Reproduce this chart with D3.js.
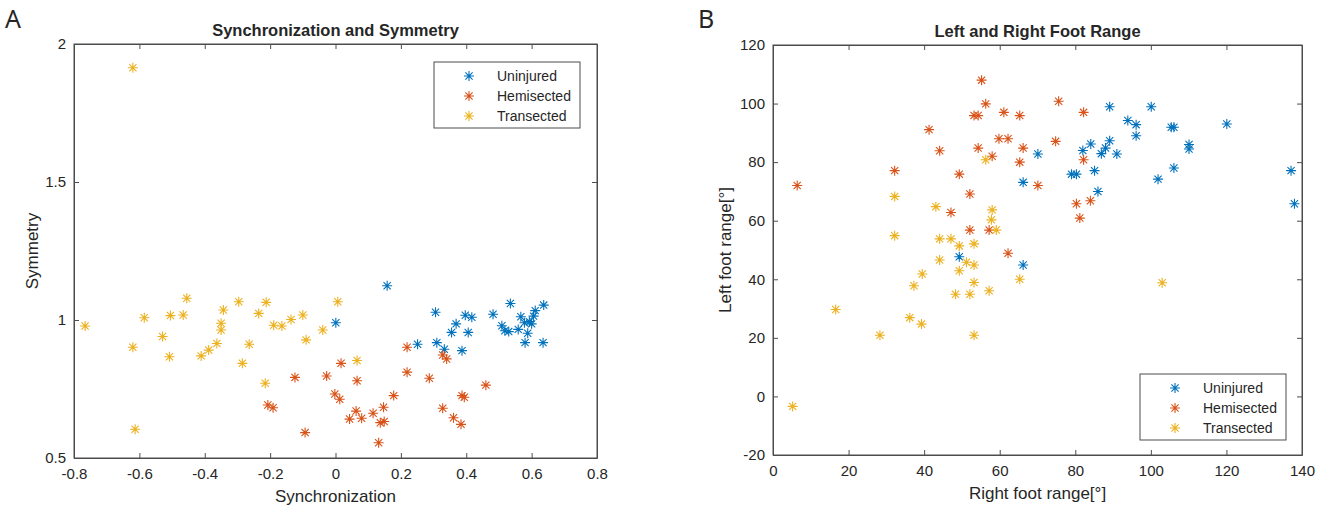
<!DOCTYPE html>
<html>
<head>
<meta charset="utf-8">
<script src="https://cdn.jsdelivr.net/npm/d3@7"></script>
<style>
  body { margin: 0; background: #fff; }
  svg text { font-family: "Liberation Sans", Arial, sans-serif; fill: #262626; }
</style>
</head>
<body>
<svg id="chart" width="1325" height="508"></svg>
<script>
const groups = ['Uninjured', 'Hemisected', 'Transected']
const colors = ['#0072BD', '#D95319', '#EDB120']

// Panel A: synchronization vs symmetry
const syncUninjured = [
  [0.001, 0.990], [0.158, 1.124], [0.251, 0.912], [0.306, 1.028], [0.310, 0.918],
  [0.333, 0.894], [0.355, 0.955], [0.369, 0.986], [0.387, 0.889], [0.397, 1.017],
  [0.406, 0.955], [0.417, 1.010], [0.482, 1.021], [0.509, 0.979], [0.518, 0.961],
  [0.530, 0.958], [0.535, 1.060], [0.559, 0.966], [0.567, 1.012], [0.578, 0.990],
  [0.580, 0.918], [0.588, 0.952], [0.593, 0.994], [0.600, 0.986], [0.606, 1.014],
  [0.611, 1.034], [0.637, 1.054], [0.635, 0.918]
]
const syncHemisected = [
  [-0.207, 0.692], [-0.191, 0.682], [-0.124, 0.792], [-0.093, 0.592], [-0.027, 0.797],
  [-0.002, 0.732], [0.013, 0.713], [0.017, 0.843], [0.043, 0.641], [0.063, 0.670],
  [0.066, 0.780], [0.080, 0.644], [0.115, 0.662], [0.132, 0.555], [0.137, 0.628],
  [0.149, 0.632], [0.147, 0.684], [0.178, 0.726], [0.219, 0.901], [0.219, 0.811],
  [0.287, 0.789], [0.328, 0.873], [0.340, 0.859], [0.328, 0.680], [0.361, 0.646],
  [0.384, 0.622], [0.387, 0.726], [0.394, 0.720], [0.460, 0.764]
]
const syncTransected = [
  [-0.620, 1.914], [-0.766, 0.978], [-0.585, 1.008], [-0.620, 0.901], [-0.613, 0.604],
  [-0.529, 0.940], [-0.508, 0.867], [-0.505, 1.016], [-0.466, 1.018], [-0.455, 1.079],
  [-0.411, 0.870], [-0.388, 0.891], [-0.363, 0.915], [-0.350, 0.964], [-0.350, 0.988],
  [-0.343, 1.036], [-0.296, 1.066], [-0.285, 0.843], [-0.264, 0.912], [-0.235, 1.024],
  [-0.212, 1.064], [-0.215, 0.771], [-0.189, 0.981], [-0.164, 0.978], [-0.136, 1.002],
  [-0.100, 1.018], [-0.090, 0.928], [-0.039, 0.964], [0.007, 1.066], [0.066, 0.853]
]

// Panel B: right foot range vs left foot range
const footUninjured = [
  [70.1, 82.8], [66.2, 73.1], [49.3, 47.7], [66.2, 44.9], [89.1, 98.9], [100.1, 98.9],
  [93.9, 94.2], [96.1, 92.8], [96.1, 89.0], [105.4, 91.9], [106.1, 91.9], [120.1, 93.0],
  [84.1, 86.2], [89.1, 87.3], [82.0, 84.0], [88.0, 84.8], [86.9, 82.9], [91.0, 82.8],
  [110.1, 86.0], [110.1, 84.5], [79.0, 75.9], [80.3, 75.9], [85.1, 77.1], [86.0, 70.0],
  [101.9, 74.2], [106.1, 78.0], [137.1, 77.1], [138.0, 65.8]
]
const footHemisected = [
  [6.4, 72.0], [32.2, 77.1], [41.3, 91.1], [44.1, 83.9], [49.3, 75.9], [47.1, 62.8],
  [52.1, 69.1], [52.1, 56.8], [53.2, 95.9], [54.3, 95.9], [55.2, 108.0], [56.3, 99.9],
  [54.3, 84.8], [58.0, 82.0], [57.2, 56.8], [59.8, 88.0], [62.2, 88.0], [61.1, 97.0],
  [62.2, 48.9], [65.3, 95.9], [66.2, 84.8], [65.3, 80.0], [70.1, 72.0], [75.6, 100.8],
  [74.8, 87.1], [82.2, 97.0], [82.2, 80.8], [80.3, 65.8], [84.0, 66.8], [81.2, 60.9]
]
const footTransected = [
  [5.2, -3.4], [16.6, 29.7], [28.3, 20.9], [32.2, 68.3], [32.2, 54.9], [36.2, 26.9],
  [37.3, 37.8], [39.3, 24.7], [39.5, 41.8], [43.1, 64.8], [44.1, 53.8], [44.1, 46.6],
  [47.1, 53.8], [48.3, 34.9], [49.3, 51.4], [49.3, 42.9], [51.2, 45.8], [52.1, 34.9],
  [53.2, 52.1], [53.2, 44.9], [53.2, 38.9], [53.2, 20.9], [56.3, 80.8], [57.2, 36.1],
  [58.0, 63.7], [57.8, 60.3], [59.1, 56.8], [65.3, 40.0], [103.0, 38.8]
]

const syncTicks = [-0.8, -0.6, -0.4, -0.2, 0, 0.2, 0.4, 0.6, 0.8]
const symTicks = [0.5, 1, 1.5, 2]
const rightTicks = [0, 20, 40, 60, 80, 100, 120, 140]
const leftTicks = [-20, 0, 20, 40, 60, 80, 100, 120]

const svg = d3.select('#chart')

// MATLAB '*' marker: plus + cross
function asterisk(r) {
  const d = r * 0.72
  return `M0,${-r}V${r}M${-r},0H${r}M${-d},${-d}L${d},${d}M${-d},${d}L${d},${-d}`
}

function drawPanel(opt) {
  const g = svg.append('g')
  const x = d3.scaleLinear().domain(opt.xDomain).range([opt.left, opt.right])
  const y = d3.scaleLinear().domain(opt.yDomain).range([opt.bottom, opt.top])

  const fmt = v => String(v)

  // inward ticks on all 4 sides
  g.append('g').attr('transform', `translate(0,${opt.bottom})`)
    .call(d3.axisBottom(x).tickValues(opt.xTicks).tickSizeInner(-5).tickSizeOuter(0).tickPadding(10).tickFormat(fmt))
  g.append('g').attr('transform', `translate(0,${opt.top})`)
    .call(d3.axisTop(x).tickValues(opt.xTicks).tickSizeInner(-5).tickSizeOuter(0).tickFormat(''))
  g.append('g').attr('transform', `translate(${opt.left},0)`)
    .call(d3.axisLeft(y).tickValues(opt.yTicks).tickSizeInner(-5).tickSizeOuter(0).tickPadding(8).tickFormat(fmt))
  g.append('g').attr('transform', `translate(${opt.right},0)`)
    .call(d3.axisRight(y).tickValues(opt.yTicks).tickSizeInner(-5).tickSizeOuter(0).tickFormat(''))

  g.selectAll('.domain').attr('stroke', '#4d4d4d')
  g.selectAll('.tick line').attr('stroke', '#4d4d4d')
  g.selectAll('.tick text').style('font-size', '15px').attr('fill', '#262626')

  // the box
  g.append('rect')
    .attr('x', opt.left).attr('y', opt.top)
    .attr('width', opt.right - opt.left).attr('height', opt.bottom - opt.top)
    .attr('fill', 'none').attr('stroke', '#4d4d4d')

  opt.series.forEach((pts, i) => {
    g.append('g').selectAll('path')
      .data(pts)
      .join('path')
      .attr('transform', d => `translate(${x(d[0])},${y(d[1])})`)
      .attr('d', asterisk(5))
      .attr('stroke', colors[i])
      .attr('stroke-width', 1.1)
      .attr('fill', 'none')
  })

  g.append('text')
    .attr('x', (opt.left + opt.right) / 2).attr('y', opt.top - 8)
    .attr('text-anchor', 'middle')
    .style('font-size', '16.5px').style('font-weight', 'bold')
    .attr('fill', '#000')
    .text(opt.title)

  g.append('text')
    .attr('x', (opt.left + opt.right) / 2).attr('y', opt.bottom + 44)
    .attr('text-anchor', 'middle')
    .style('font-size', '17px')
    .text(opt.xLabel)

  g.append('text')
    .attr('transform', `translate(${opt.yLabelX},${(opt.top + opt.bottom) / 2}) rotate(-90)`)
    .attr('text-anchor', 'middle')
    .style('font-size', '17px')
    .text(opt.yLabel)

  // legend
  const lg = g.append('g').attr('transform', `translate(${opt.legend[0]},${opt.legend[1]})`)
  lg.append('rect')
    .attr('width', 146).attr('height', 66)
    .attr('fill', '#fff').attr('stroke', '#4d4d4d')
  groups.forEach((name, i) => {
    lg.append('path')
      .attr('transform', `translate(35,${14 + i * 20})`)
      .attr('d', asterisk(5))
      .attr('stroke', colors[i]).attr('stroke-width', 1.1).attr('fill', 'none')
    lg.append('text')
      .attr('x', 63).attr('y', 19 + i * 20)
      .style('font-size', '14px')
      .text(name)
  })

  svg.append('text')
    .attr('x', opt.letter[0]).attr('y', opt.letter[1])
    .style('font-family', '"Noto Sans", sans-serif')
    .style('font-size', '25px')
    .attr('fill', '#000')
    .text(opt.letterText)
}

drawPanel({
  left: 74, right: 597, top: 44, bottom: 458,
  xDomain: [-0.8, 0.8], yDomain: [0.5, 2],
  xTicks: syncTicks, yTicks: symTicks,
  series: [syncUninjured, syncHemisected, syncTransected],
  title: 'Synchronization and Symmetry',
  xLabel: 'Synchronization', yLabel: 'Symmetry', yLabelX: 38,
  legend: [434, 62],
  letter: [5, 28], letterText: 'A'
})

drawPanel({
  left: 773, right: 1302, top: 45, bottom: 455,
  xDomain: [0, 140], yDomain: [-20, 120],
  xTicks: rightTicks, yTicks: leftTicks,
  series: [footUninjured, footHemisected, footTransected],
  title: 'Left and Right Foot Range',
  xLabel: 'Right foot range[°]', yLabel: 'Left foot range[°]', yLabelX: 731,
  legend: [1140, 374],
  letter: [698, 28], letterText: 'B'
})
</script>
</body>
</html>
